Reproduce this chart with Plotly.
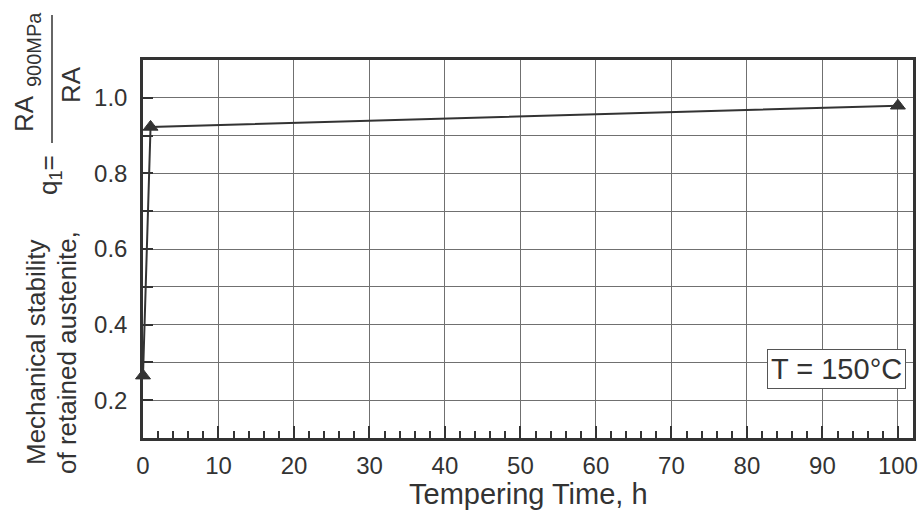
import plotly.graph_objects as go

# Data
tempering_time_h = [0, 1, 100]
q1_values = [0.265, 0.923, 0.979]

x_tick_vals = [0, 10, 20, 30, 40, 50, 60, 70, 80, 90, 100]
y_tick_vals = [0.2, 0.4, 0.6, 0.8, 1.0]
y_tick_text = ["0.2", "0.4", "0.6", "0.8", "1.0"]

W, H = 922, 511
ML, MR, MT, MB = 143, 9, 60, 73
PW, PH = W - ML - MR, H - MT - MB

FONT = "Liberation Sans, Arial, Helvetica, sans-serif"
DARK = "#333333"
GRID = "#707070"


def px(xp):
    return (xp - ML) / PW


def py(yp):
    return (H - MB - yp) / PH


fig = go.Figure()
fig.add_trace(go.Scatter(
    x=tempering_time_h, y=q1_values, mode="lines+markers",
    line=dict(color=DARK, width=2),
    marker=dict(symbol="triangle-up", size=13, color=DARK,
                line=dict(color=DARK, width=1)),
    showlegend=False, cliponaxis=False, hoverinfo="skip",
))

fig.update_xaxes(
    range=[0, 102], tickmode="array", tickvals=x_tick_vals,
    ticks="inside", ticklen=12, tickwidth=2, tickcolor=DARK,
    minor=dict(dtick=2, tick0=0, ticks="inside", ticklen=7, tickwidth=1.5,
               tickcolor=DARK, showgrid=False),
    showgrid=True, gridcolor=GRID, gridwidth=1,
    showline=True, linecolor=DARK, linewidth=2.5, mirror=True,
    zeroline=False,
    tickfont=dict(family=FONT, size=24, color=DARK),
    ticklabelstandoff=4,
)
fig.update_yaxes(
    range=[0.1, 1.1], tickmode="array", tickvals=y_tick_vals, ticktext=y_tick_text,
    ticks="inside", ticklen=10, tickwidth=2, tickcolor=DARK,
    minor=dict(dtick=0.1, tick0=0.1, ticks="inside", ticklen=10, tickwidth=2,
               tickcolor=DARK, showgrid=True, gridcolor=GRID, gridwidth=1),
    showgrid=True, gridcolor=GRID, gridwidth=1,
    showline=True, linecolor=DARK, linewidth=2.5, mirror=True,
    zeroline=False,
    tickfont=dict(family=FONT, size=24, color=DARK),
    ticklabelstandoff=8,
)

ann_font = dict(family=FONT, size=26, color=DARK)
annotations = [
    dict(text="Mechanical stability", x=px(36), y=py(353), font=ann_font),
    dict(text="of retained austenite,", x=px(67), y=py(353), font=ann_font),
    dict(text="q<sub>1</sub>=", x=px(49), y=py(175), font=ann_font),
    dict(text="RA", x=px(24), y=py(114), font=ann_font),
    dict(text="900MPa", x=px(34), y=py(50), font=dict(family=FONT, size=20, color=DARK)),
    dict(text="RA", x=px(71), y=py(85), font=ann_font),
]
for a in annotations:
    fig.add_annotation(xref="paper", yref="paper", showarrow=False,
                       textangle=-90, xanchor="center", yanchor="middle", **a)

# x-axis title
fig.add_annotation(
    xref="paper", yref="paper", x=0.5, y=py(494), xanchor="center", yanchor="middle",
    text="Tempering Time, h", showarrow=False,
    font=dict(family=FONT, size=29, color=DARK),
)

fig.add_annotation(
    xref="paper", yref="paper", x=px(906), y=py(369), xanchor="right", yanchor="middle",
    text="T = 150°C", showarrow=False, font=dict(family=FONT, size=29, color=DARK),
    bgcolor="white", bordercolor="#555555", borderwidth=1, borderpad=3,
)

fig.add_shape(type="line", xref="paper", yref="paper",
              x0=px(52), x1=px(52), y0=py(15), y1=py(143),
              line=dict(color=DARK, width=1.5))

fig.update_layout(
    width=W, height=H,
    margin=dict(l=ML, r=MR, t=MT, b=MB, autoexpand=False),
    paper_bgcolor="white", plot_bgcolor="white",
    font=dict(family=FONT, color=DARK),
    hovermode=False,
)

fig.write_html("out.html", config={"displayModeBar": False},
               post_script="document.body.style.margin='0';")
